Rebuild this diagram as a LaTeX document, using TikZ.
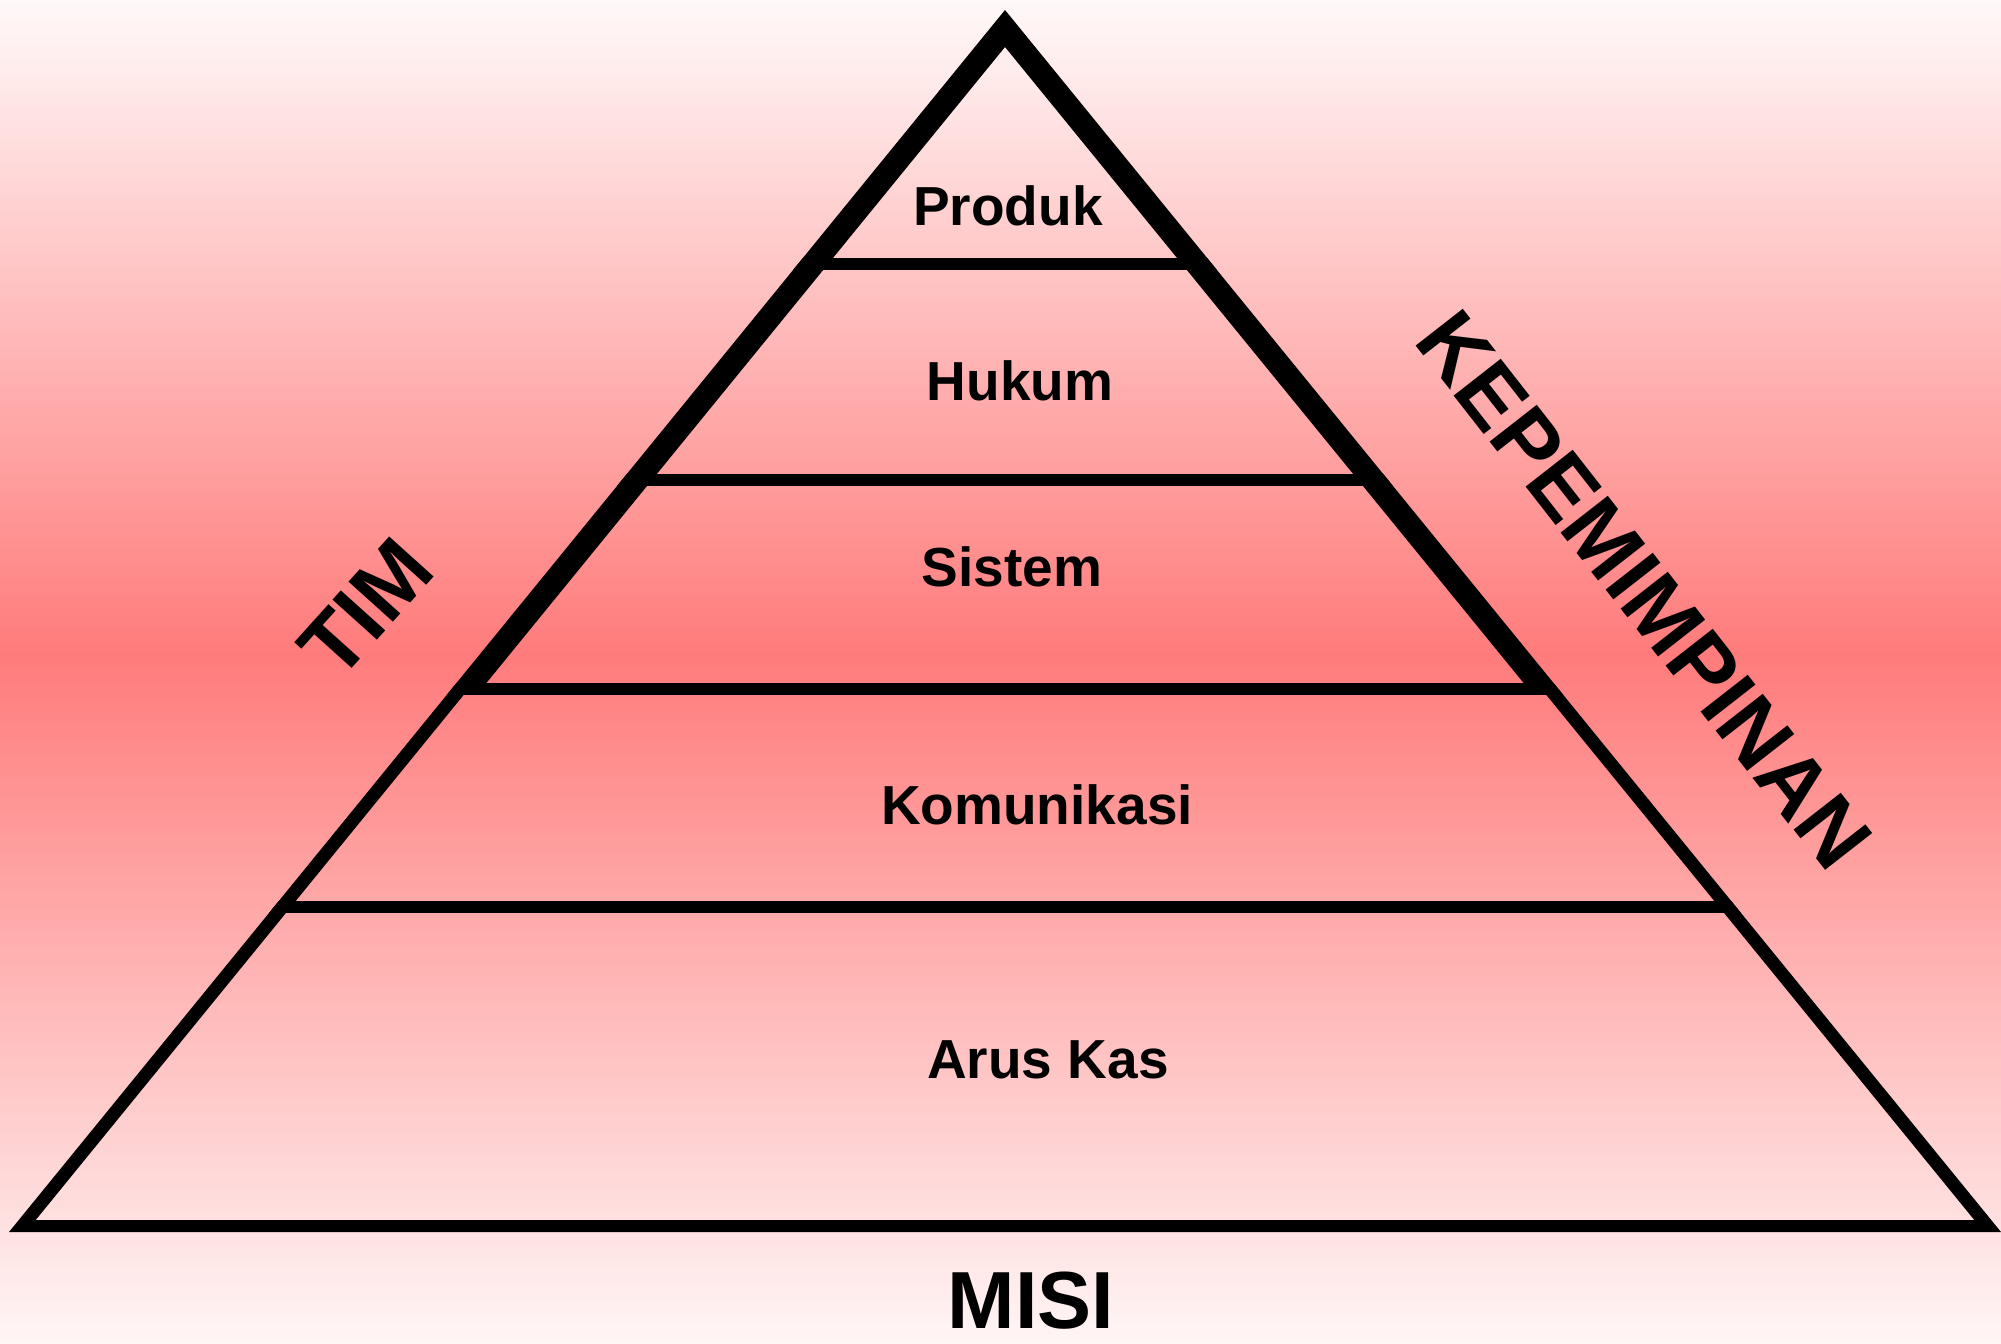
\documentclass[tikz,border=0pt]{standalone}
\usepackage{fontspec}
\setmainfont{Liberation Sans}
\definecolor{bgtop}{HTML}{FFF9F9}
\definecolor{bgpeak}{HTML}{FF7B7B}
\definecolor{bgbot}{HTML}{FFF6F6}
\begin{document}
\begin{tikzpicture}[x=1pt,y=-1pt,
  lbl/.style={font=\fontsize{55}{60}\selectfont\bfseries, inner sep=0, anchor=base},
  sidelbl/.style={font=\fontsize{87}{92}\selectfont\bfseries, inner sep=0}]
\useasboundingbox (0,0) rectangle (2001,1343);
\shade[top color=bgtop,bottom color=bgpeak] (0,0) rectangle (2001,654);
\shade[top color=bgpeak,bottom color=bgbot] (0,653) rectangle (2001,1343);
\coordinate (apex) at (1005,10);
\coordinate (bl) at (9,1232);
\coordinate (br) at (2001,1232);
% outline of the pyramid
\fill[black, even odd rule] (apex) -- (bl) -- (br) -- cycle
  (1005,47) -- (481.5,689) -- (468.5,689) -- (35.7,1220) -- (1974.3,1220)
  -- (1541.5,689) -- (1528.5,689) -- cycle;
% dividers
\begin{scope}
  \clip (apex) -- (bl) -- (br) -- cycle;
  \foreach \y in {264,480,689,907}
    \fill[black] (0,{\y-6}) rectangle (2001,{\y+6});
\end{scope}
% labels
\node[lbl] (produk) at (1008,225) {Produk};
\node[lbl] (hukum) at (1020,400) {Hukum};
\node[lbl] (sistem) at (1012,586) {Sistem};
\node[lbl] (komunikasi) at (1037,824) {Komunikasi};
\node[lbl] (aruskas) at (1048,1078) {Arus Kas};
\node[font=\fontsize{81}{90}\selectfont\bfseries, inner sep=0, anchor=base] (misi) at (1031,1328) {MISI};
\node[sidelbl, rotate=48] (tim) at (366,608) {TIM};
\node[sidelbl, rotate=-52] (kep) at (1644,590) {KEPEMIMPINAN};
\end{tikzpicture}
\end{document}
